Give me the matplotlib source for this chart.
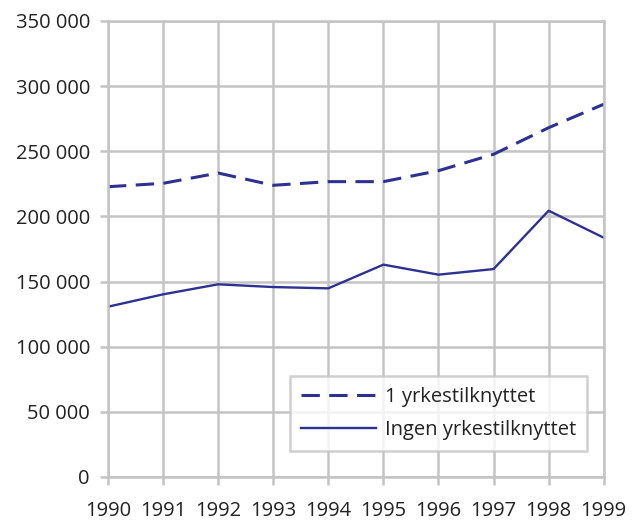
import matplotlib
matplotlib.use("Agg")
import matplotlib.pyplot as plt
from matplotlib.ticker import FuncFormatter

years = [1990, 1991, 1992, 1993, 1994, 1995, 1996, 1997, 1998, 1999]
en_yrkes = [222800, 225400, 233300, 223900, 226700, 226700, 235100, 247700, 268100, 286100]
ingen_yrkes = [130700, 140200, 147900, 145800, 144800, 163000, 155300, 159600, 204400, 183700]
labels = ["1 yrkestilknyttet", "Ingen yrkestilknyttet"]
y_ticks = [0, 50000, 100000, 150000, 200000, 250000, 300000, 350000]

plt.rcParams['font.family'] = ['Open Sans', 'DejaVu Sans']
line_color = '#2e3192'
grid_color = '#c4c4c4'
text_color = '#222222'

fig = plt.figure(figsize=(6.35, 5.21), dpi=100)
ax = fig.add_axes([108/635, 44/521, (603.7-108)/635, (477-21)/521])

lw_d = 2.2
lw_s = 1.7
ax.plot(years, en_yrkes, color=line_color, lw=lw_d,
        linestyle=(0, (13.2/lw_d, 6.8/lw_d)), label=labels[0])
ax.plot(years, ingen_yrkes, color=line_color, lw=lw_s, label=labels[1])

ax.set_xlim(1990, 1999)
ax.set_ylim(0, 350000)
ax.set_xticks(years)
ax.set_yticks(y_ticks)
ax.yaxis.set_major_formatter(FuncFormatter(lambda v, p: f"{int(v):,}".replace(",", " ")))

ax.grid(True, color=grid_color, lw=1.8)
ax.set_axisbelow(True)
for s in ax.spines.values():
    s.set_color(grid_color)
    s.set_linewidth(1.8)

ax.tick_params(axis='both', colors=grid_color, width=1.8, length=6, labelsize=14.5,
               labelcolor=text_color)
ax.tick_params(axis='x', pad=11)
ax.tick_params(axis='y', pad=7)

leg = ax.legend(loc='upper left', bbox_to_anchor=((290-108)/(603.7-108), (477-376)/456),
                fontsize=14.5, handlelength=3.7, handletextpad=0.45, frameon=True,
                fancybox=False, borderpad=0.55, labelspacing=0.65, borderaxespad=0)
leg.get_frame().set_edgecolor(grid_color)
leg.get_frame().set_linewidth(1.8)
for t in leg.get_texts():
    t.set_color(text_color)

fig.savefig("out.png", dpi=100)
